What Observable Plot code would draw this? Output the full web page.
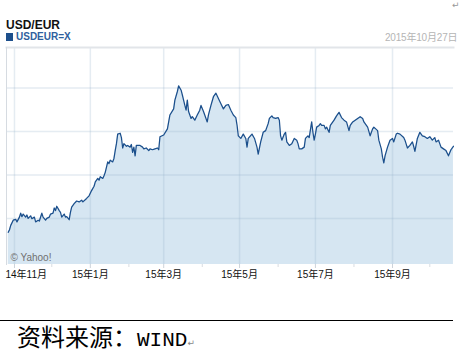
<!DOCTYPE html>
<html><head><meta charset="utf-8">
<script src="https://cdn.jsdelivr.net/npm/d3@7"></script>
<script src="https://cdn.jsdelivr.net/npm/@observablehq/plot@0.6"></script>
<style>
html,body{margin:0;padding:0;background:#fff;width:461px;height:352px;overflow:hidden;position:relative;font-family:"Liberation Sans",Arial,"Noto Sans CJK SC",sans-serif;}
#title{position:absolute;left:6px;top:19px;font-size:12px;line-height:12px;font-weight:bold;color:#111;}
#sub{position:absolute;left:6px;top:32px;font-size:10px;line-height:10px;font-weight:bold;color:#2f5f9e;white-space:nowrap}
#sub .sq{display:inline-block;width:7px;height:8px;background:#1d4f8c;margin-right:3px;vertical-align:-1px}
#date{position:absolute;left:385px;top:33px;white-space:nowrap;font-size:10px;line-height:10px;color:#b5b5b5;letter-spacing:-0.2px}
#ret1{position:absolute;left:452px;top:1px;font-size:9px;line-height:9px;color:#999;font-family:"DejaVu Sans"}
#chart{position:absolute;left:0;top:40px}
#rule{position:absolute;left:0;top:320px;width:453px;height:0;border-top:1px solid #000}
#source{position:absolute;left:17px;top:324px;font-size:24px;line-height:24px;font-family:"Noto Sans CJK SC";color:#000;white-space:nowrap}
#source .latin{font-family:"Liberation Mono";font-size:21px}
#source .ret{font-size:9px;color:#888;font-family:"DejaVu Sans"}
</style>
</head>
<body>
<div id="title">USD/EUR</div>
<div id="sub"><span class="sq"></span>USDEUR=X</div>
<div id="date">2015年10月27日</div>
<div id="ret1">↵</div>
<div id="chart"></div>
<div id="rule"></div>
<div id="source">资料来源：<span class="latin">WIND</span><span class="ret">↵</span></div>
<script>
const dates = [
"2014-10-27","2014-10-28","2014-10-29","2014-10-31","2014-11-02","2014-11-03","2014-11-05","2014-11-06","2014-11-07","2014-11-08",
"2014-11-10","2014-11-11","2014-11-12","2014-11-14","2014-11-15","2014-11-17","2014-11-18","2014-11-20","2014-11-21","2014-11-23",
"2014-11-24","2014-11-26","2014-11-27","2014-11-29","2014-11-30","2014-12-02","2014-12-03","2014-12-04","2014-12-05","2014-12-07",
"2014-12-08","2014-12-09","2014-12-11","2014-12-12","2014-12-13","2014-12-15","2014-12-16","2014-12-17","2014-12-19","2014-12-21",
"2014-12-23","2014-12-25","2014-12-26","2014-12-29","2014-12-31","2015-01-02","2015-01-04","2015-01-05","2015-01-07","2015-01-08",
"2015-01-09","2015-01-11","2015-01-12","2015-01-13","2015-01-14","2015-01-15","2015-01-16","2015-01-17","2015-01-19","2015-01-20",
"2015-01-21","2015-01-22","2015-01-23","2015-01-25","2015-01-26","2015-01-27","2015-01-28","2015-01-30","2015-01-31","2015-02-02",
"2015-02-03","2015-02-04","2015-02-05","2015-02-06","2015-02-07","2015-02-08","2015-02-10","2015-02-12","2015-02-13","2015-02-15",
"2015-02-17","2015-02-18","2015-02-20","2015-02-22","2015-02-24","2015-02-25","2015-02-26","2015-03-01","2015-03-04","2015-03-06",
"2015-03-09","2015-03-10","2015-03-12","2015-03-13","2015-03-15","2015-03-16","2015-03-18","2015-03-19","2015-03-20","2015-03-21",
"2015-03-23","2015-03-24","2015-03-26","2015-03-28","2015-03-30","2015-03-31","2015-04-02","2015-04-04","2015-04-05","2015-04-06",
"2015-04-08","2015-04-10","2015-04-12","2015-04-14","2015-04-16","2015-04-18","2015-04-20","2015-04-22","2015-04-24","2015-04-26",
"2015-04-28","2015-04-29","2015-04-30","2015-05-02","2015-05-04","2015-05-06","2015-05-07","2015-05-08","2015-05-11","2015-05-13",
"2015-05-15","2015-05-16","2015-05-18","2015-05-20","2015-05-22","2015-05-24","2015-05-25","2015-05-27","2015-05-28","2015-05-30",
"2015-06-01","2015-06-02","2015-06-03","2015-06-04","2015-06-06","2015-06-07","2015-06-08","2015-06-10","2015-06-12","2015-06-14",
"2015-06-16","2015-06-17","2015-06-18","2015-06-20","2015-06-22","2015-06-23","2015-06-25","2015-06-26","2015-06-28","2015-06-29",
"2015-06-30","2015-07-01","2015-07-02","2015-07-04","2015-07-05","2015-07-06","2015-07-08","2015-07-09","2015-07-10","2015-07-12",
"2015-07-13","2015-07-16","2015-07-18","2015-07-20","2015-07-22","2015-07-24","2015-07-26","2015-07-28","2015-07-29","2015-07-31",
"2015-08-02","2015-08-04","2015-08-06","2015-08-08","2015-08-09","2015-08-12","2015-08-14","2015-08-16","2015-08-17","2015-08-20",
"2015-08-21","2015-08-23","2015-08-24","2015-08-25","2015-08-26","2015-08-28","2015-08-30","2015-09-01","2015-09-02","2015-09-04",
"2015-09-05","2015-09-07","2015-09-10","2015-09-11","2015-09-13","2015-09-15","2015-09-17","2015-09-18","2015-09-19","2015-09-21",
"2015-09-23","2015-09-25","2015-09-27","2015-09-29","2015-10-01","2015-10-03","2015-10-05","2015-10-06","2015-10-08","2015-10-10",
"2015-10-12","2015-10-14","2015-10-16","2015-10-18","2015-10-20"
];
const values = [
0.784,0.787,0.792,0.798,0.799,0.796,0.8015,0.806,0.802,0.805,
0.8015,0.804,0.800,0.803,0.7997,0.8015,0.796,0.798,0.797,0.806,
0.8015,0.798,0.800,0.8015,0.805,0.806,0.812,0.809,0.814,0.809,
0.807,0.8015,0.805,0.8015,0.802,0.7985,0.807,0.813,0.817,0.820,
0.819,0.821,0.819,0.823,0.826,0.832,0.837,0.842,0.846,0.844,
0.848,0.846,0.849,0.853,0.859,0.865,0.863,0.867,0.865,0.869,
0.878,0.886,0.897,0.898,0.893,0.881,0.886,0.883,0.884,0.882,
0.885,0.876,0.882,0.872,0.884,0.884,0.884,0.882,0.880,0.881,
0.878,0.880,0.879,0.880,0.881,0.879,0.894,0.896,0.903,0.919,
0.926,0.936,0.946,0.9525,0.9475,0.942,0.930,0.9245,0.936,0.923,
0.915,0.917,0.913,0.919,0.9245,0.930,0.923,0.915,0.911,0.919,
0.930,0.940,0.944,0.938,0.932,0.926,0.930,0.931,0.9245,0.919,
0.916,0.907,0.895,0.892,0.897,0.892,0.882,0.892,0.897,0.892,
0.882,0.874,0.888,0.899,0.901,0.909,0.915,0.918,0.916,0.915,
0.916,0.913,0.895,0.890,0.897,0.899,0.888,0.884,0.886,0.892,
0.890,0.886,0.880,0.880,0.882,0.892,0.895,0.893,0.911,0.899,
0.890,0.897,0.905,0.907,0.909,0.907,0.907,0.903,0.905,0.899,
0.907,0.913,0.918,0.922,0.916,0.913,0.911,0.901,0.907,0.911,
0.913,0.915,0.917,0.915,0.911,0.905,0.895,0.903,0.905,0.901,
0.890,0.880,0.8705,0.864,0.872,0.882,0.890,0.892,0.888,0.897,
0.898,0.897,0.893,0.890,0.881,0.884,0.888,0.883,0.877,0.892,
0.899,0.895,0.894,0.892,0.894,0.890,0.893,0.888,0.890,0.882,
0.880,0.878,0.872,0.879,0.883
];
const majorTickDates = ["2014-11-01","2015-01-01","2015-03-01","2015-05-01","2015-07-01","2015-09-01"];
const tickLabels = ["14年11月","15年1月","15年3月","15年5月","15年7月","15年9月"];
const minorTickDates = ["2014-12-01","2015-02-01","2015-04-01","2015-06-01","2015-08-01","2015-10-01"];
const yGridValues = [0.80, 0.85, 0.90, 0.95];
const xDomainDates = ["2014-10-25T14:00Z","2015-10-20T01:00Z"];
const yDomain = [0.747, 0.9966];
const credit = ["© Yahoo!"];

const series = dates.map((d, i) => ({date: new Date(d), value: values[i]}));
const majorTicks = majorTickDates.map(d => new Date(d));
const minorTicks = minorTickDates.map(d => new Date(d));
const labelOf = new Map(majorTicks.map((d, i) => [+d, tickLabels[i]]));

const chart = Plot.plot({
  width: 461, height: 247,
  marginTop: 7, marginBottom: 23, marginLeft: 6, marginRight: 8,
  style: {fontFamily: '"Liberation Sans", Arial, "Noto Sans CJK SC", sans-serif', fontSize: "10px", color: "#222", background: "transparent", overflow: "visible"},
  x: {type: "utc", domain: xDomainDates.map(d => new Date(d)), axis: null},
  y: {domain: yDomain, axis: null},
  marks: [
    Plot.areaY(series, {x: "date", y1: yDomain[0], y2: "value", fill: "#d6e6f2"}),
    Plot.gridX(majorTicks, {stroke: "rgb(150,180,205)", strokeOpacity: 0.25, strokeWidth: 1.5}),
    Plot.gridY(yGridValues, {stroke: "rgb(150,180,205)", strokeOpacity: 0.25, strokeWidth: 1.5}),
    Plot.line(series, {x: "date", y: "value", stroke: "#1b4f8c", strokeWidth: 1.25}),
    Plot.frame({anchor: "top", stroke: "#e2e5e9", strokeWidth: 2}),
    Plot.frame({anchor: "left", stroke: "#d6dbe1"}),
    Plot.axisX(majorTicks, {tickSize: 4, tickFormat: () => "", stroke: "#cdd3da"}),
    Plot.axisX(minorTicks, {tickSize: 3, tickFormat: () => "", stroke: "#d8dce1"}),
    Plot.axisX([majorTicks[0]], {tickSize: 0, tickPadding: 6, textAnchor: "start", dx: -9, tickFormat: d => labelOf.get(+d), fill: "#111"}),
    Plot.axisX(majorTicks.slice(1), {tickSize: 0, tickPadding: 6, tickFormat: d => labelOf.get(+d), fill: "#111"}),
    Plot.text(credit, {frameAnchor: "bottom-left", text: d => d, textAnchor: "start", lineAnchor: "bottom", dx: 4, dy: -4, fill: "#707070", fontSize: 10})
  ]
});
document.getElementById("chart").appendChild(chart);
</script>
</body></html>
